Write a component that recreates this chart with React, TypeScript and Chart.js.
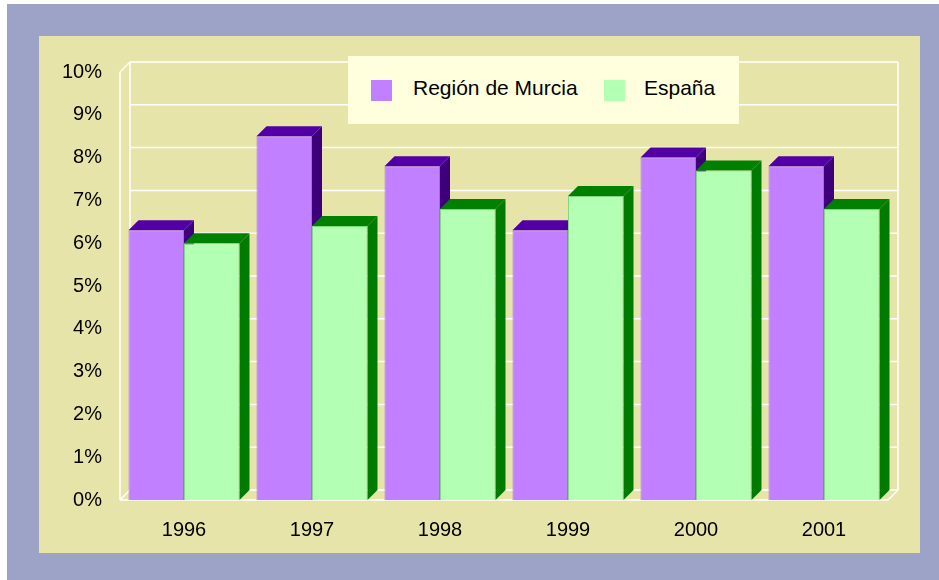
import React, { useEffect, useRef } from "react";
import { Chart, registerables } from "chart.js";

Chart.register(...registerables);

const categories = ["1996", "1997", "1998", "1999", "2000", "2001"];
const murcia = [6.3, 8.5, 7.8, 6.3, 8.0, 7.8];
const espana = [6.0, 6.4, 6.8, 7.1, 7.7, 6.8];
const seriesNames = ["Región de Murcia", "España"];
const yTicks = [0, 1, 2, 3, 4, 5, 6, 7, 8, 9, 10];

const FRONT = ["#C080FF", "#B3FFB3"];
const TOP = ["#5200A6", "#008000"];
const SIDE = ["#3D007A", "#007A00"];
const EDGE = ["#A868F0", "#80D880"];
const DEPTH = 10;
const FONT = "'Liberation Sans', Arial, sans-serif";

const threeD = {
  id: "threeD",
  beforeDatasetsDraw(chart: any) {
    const { ctx, chartArea, scales } = chart;
    const { left, right } = chartArea;
    const ys = scales.y;
    const d = DEPTH;
    const y0 = ys.getPixelForValue(0);
    const yMax = ys.getPixelForValue(10);
    ctx.save();
    ctx.strokeStyle = "#FFFFFF";
    ctx.lineWidth = 1.5;
    const line = (x1: number, y1: number, x2: number, y2: number) => {
      ctx.beginPath();
      ctx.moveTo(x1, y1);
      ctx.lineTo(x2, y2);
      ctx.stroke();
    };
    ys.ticks.forEach((t: any) => {
      const py = ys.getPixelForValue(t.value);
      line(left + d, py - d, right + d, py - d);
    });
    line(left + d, yMax - d, left + d, y0 - d);
    line(right + d, yMax - d, right + d, y0 - d);
    line(left, yMax, left, y0);
    line(left, yMax, left + d, yMax - d);
    line(left, y0, left + d, y0 - d);
    line(right, y0, right + d, y0 - d);
    line(left, y0, right, y0);

    chart.data.datasets.forEach((ds: any, i: number) => {
      const meta = chart.getDatasetMeta(i);
      meta.data.forEach((bar: any) => {
        const p = bar.getProps(["x", "y", "base", "width"], true);
        const xl = p.x - p.width / 2;
        const xr = p.x + p.width / 2;
        const top = p.y;
        const base = p.base;
        ctx.fillStyle = SIDE[i];
        ctx.beginPath();
        ctx.moveTo(xr, top);
        ctx.lineTo(xr + d, top - d);
        ctx.lineTo(xr + d, base - d);
        ctx.lineTo(xr, base);
        ctx.closePath();
        ctx.fill();
        ctx.fillStyle = TOP[i];
        ctx.beginPath();
        ctx.moveTo(xl, top);
        ctx.lineTo(xl + d, top - d);
        ctx.lineTo(xr + d, top - d);
        ctx.lineTo(xr, top);
        ctx.closePath();
        ctx.fill();
      });
    });
    ctx.restore();
  },
};

export default function App() {
  const ref = useRef<HTMLCanvasElement>(null);
  useEffect(() => {
    if (!ref.current) return;
    const chart = new Chart(ref.current, {
      type: "bar",
      data: {
        labels: categories,
        datasets: [
          {
            label: seriesNames[0],
            data: murcia,
            backgroundColor: FRONT[0],
            borderColor: EDGE[0],
            borderWidth: 1,
            categoryPercentage: 0.867,
            barPercentage: 1,
          },
          {
            label: seriesNames[1],
            data: espana,
            backgroundColor: FRONT[1],
            borderColor: EDGE[1],
            borderWidth: 1,
            categoryPercentage: 0.867,
            barPercentage: 1,
          },
        ],
      },
      options: {
        responsive: false,
        animation: false,
        layout: { padding: { left: 0, right: 32, top: 36, bottom: 0 } },
        plugins: { legend: { display: false }, tooltip: { enabled: false } },
        scales: {
          x: {
            grid: { display: false, drawTicks: false },
            border: { display: false },
            ticks: { color: "#000", font: { family: FONT, size: 20 }, padding: 18 },
            afterFit: (s: any) => {
              s.height = 53;
            },
          },
          y: {
            min: 0,
            max: 10,
            afterBuildTicks: (s: any) => {
              s.ticks = yTicks.map((v) => ({ value: v }));
            },
            grid: { display: false, drawTicks: false },
            border: { display: false },
            ticks: {
              color: "#000",
              font: { family: FONT, size: 20 },
              padding: 18,
              callback: (v: any) => v + "%",
            },
            afterFit: (s: any) => {
              s.width = 81;
            },
          },
        },
      },
      plugins: [threeD],
    });
    return () => chart.destroy();
  }, []);

  return (
    <div style={{ position: "absolute", left: 0, top: 0, width: 939, height: 580, background: "#FFFFFF", overflow: "hidden" }}>
      <div style={{ position: "absolute", left: 7, top: 4, width: 932, height: 576, background: "#9CA3C6" }} />
      <div style={{ position: "absolute", left: 39, top: 36, width: 881, height: 517, background: "#E6E4A9" }}>
        <canvas ref={ref} width={881} height={517} style={{ display: "block", width: 881, height: 517 }} />
      </div>
      <div
        style={{
          position: "absolute",
          left: 348,
          top: 56,
          width: 391,
          height: 68,
          background: "#FFFFDD",
          fontFamily: FONT,
          fontSize: 21,
          color: "#000",
        }}
      >
        {seriesNames.map((name, i) => (
          <React.Fragment key={name}>
            <div
              style={{
                position: "absolute",
                left: i === 0 ? 23 : 256,
                top: 24,
                width: 21,
                height: 21,
                background: FRONT[i],
              }}
            />
            <div
              style={{
                position: "absolute",
                left: i === 0 ? 65 : 296,
                top: 20,
                lineHeight: "24px",
                whiteSpace: "nowrap",
              }}
            >
              {name}
            </div>
          </React.Fragment>
        ))}
      </div>
    </div>
  );
}
